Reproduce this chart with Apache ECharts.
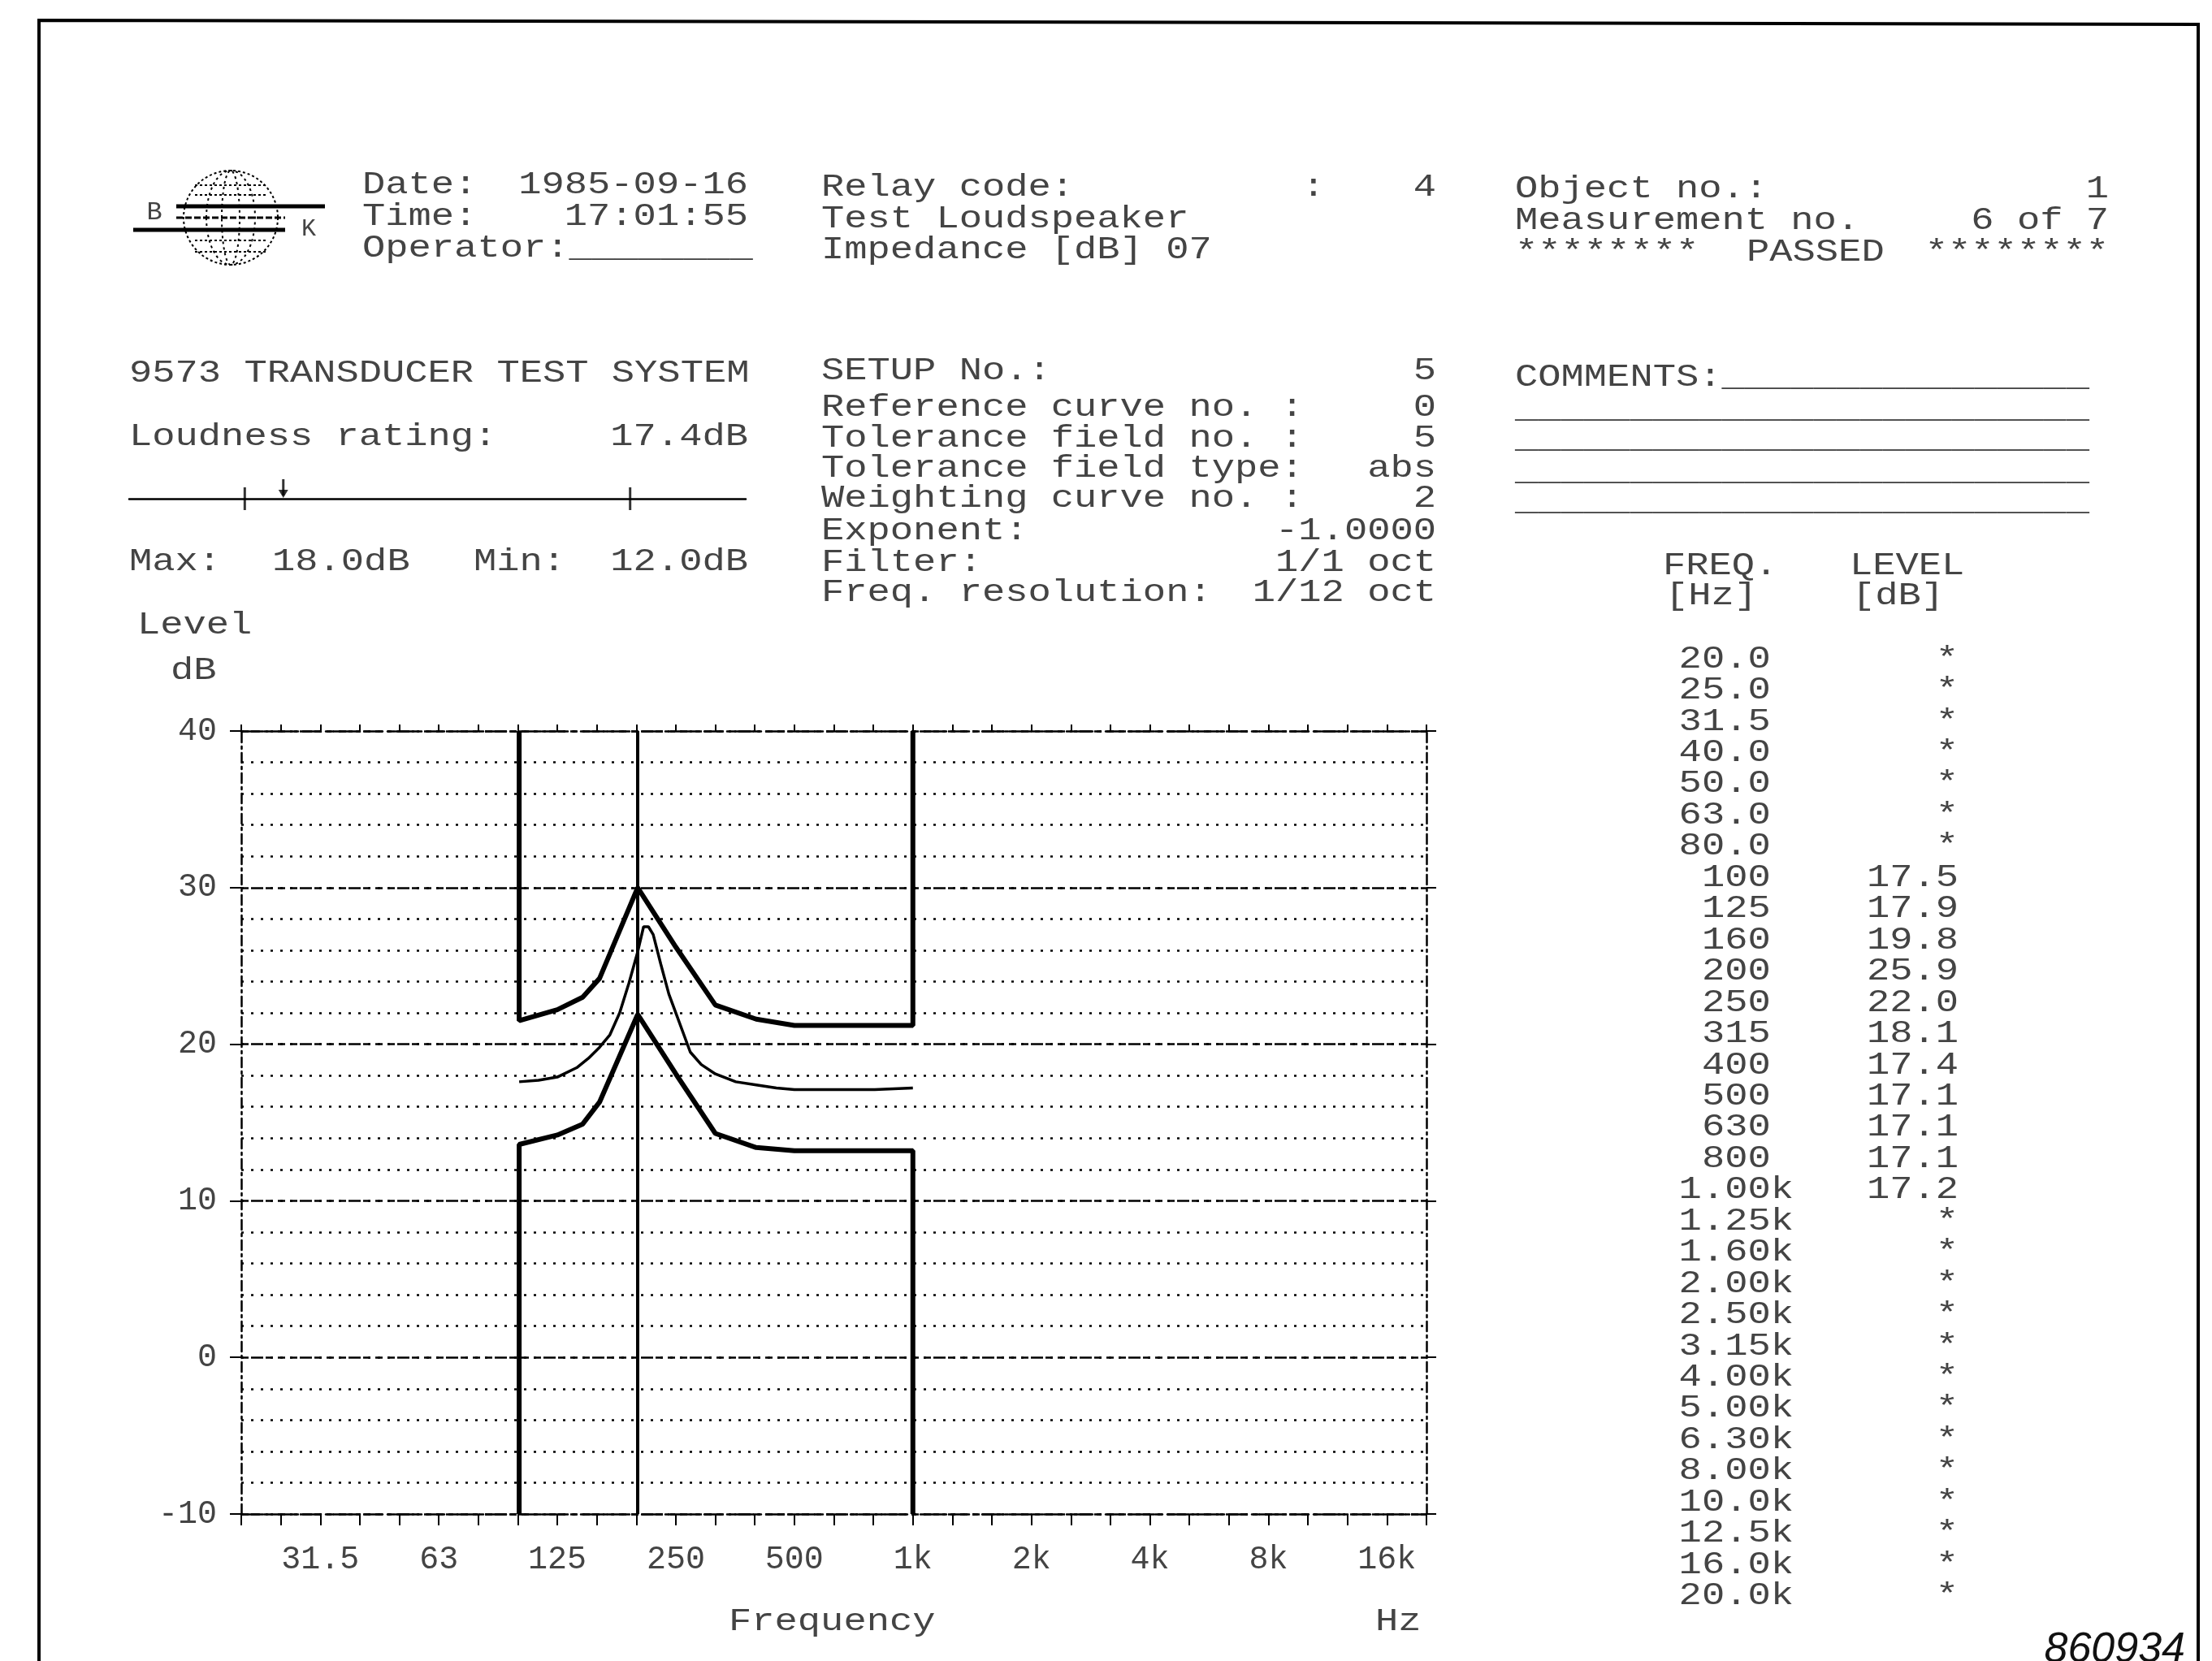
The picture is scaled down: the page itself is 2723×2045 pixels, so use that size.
<!DOCTYPE html>
<html><head><meta charset="utf-8">
<script src="https://cdn.jsdelivr.net/npm/echarts@6/dist/echarts.min.js"></script>
<style>html,body{margin:0;padding:0;background:#fff}#c{width:2723px;height:2045px}</style>
</head><body><div id="c"></div>
<script>
// ---------------- data ----------------
const bandFreqLabels = ['20.0','25.0','31.5','40.0','50.0','63.0','80.0','100','125','160','200','250','315','400','500','630','800','1.00k','1.25k','1.60k','2.00k','2.50k','3.15k','4.00k','5.00k','6.30k','8.00k','10.0k','12.5k','16.0k','20.0k'];
const bandLevels = [null,null,null,null,null,null,null,17.5,17.9,19.8,25.9,22.0,18.1,17.4,17.1,17.1,17.1,17.2,null,null,null,null,null,null,null,null,null,null,null,null,null];
const xTickLabels = ['','','31.5','','','63','','','125','','','250','','','500','','','1k','','','2k','','','4k','','','8k','','','16k',''];
const yMin = -10, yMax = 40;

const measFreq  = [100, 112, 125, 140, 150, 160, 170, 180, 190, 200, 207, 213, 219, 229, 240, 250, 272, 290, 315, 355, 400, 450, 500, 630, 800, 1000];
const measLevel = [17.6,17.7,17.9,18.5,19.1,19.8,20.6,22.0,23.9,25.9,27.5,27.5,27.0,25.1,23.2,22.0,19.5,18.7,18.1,17.6,17.4,17.2,17.1,17.1,17.1,17.2];

const tolFreq  = [100, 125, 145, 160, 200, 250, 315, 400, 500, 1000];
const tolUpper = [21.5,22.2,23.0,24.2,30.0,26.2,22.5,21.6,21.2,21.2];
const tolLower = [13.6,14.2,14.9,16.3,21.9,18.1,14.3,13.4,13.2,13.2];
const cursorFreq = 200;

const loudnessRating = 17.4, loudnessMax = 18.0, loudnessMin = 12.0;

const headDate = '1985-09-16', headTime = '17:01:55';
const setupLabels = ['SETUP No.:','Reference curve no. :','Tolerance field no. :','Tolerance field type:','Weighting curve no. :','Exponent:','Filter:','Freq. resolution:'];
const setupValues = ['5','0','5','abs','2','-1.0000','1/1 oct','1/12 oct'];

// ---------------- helpers ----------------
const band = f => 3 * Math.log2(f / 1000) + 17;   // 1/3-octave band number (20 Hz = 0)
const INK = '#444';
const FS = 38, SX = 1.24;
const FONT = FS + 'px "Liberation Mono", monospace';
function T(x, y, s, align, extra) {
  const a = align || 'left';
  return Object.assign({type:'text', x:x, y:y, scaleX:SX, silent:true,
    style:{text:s, font:FONT, fill:INK, align:a, textAlign:a, verticalAlign:'middle', textVerticalAlign:'middle'}}, extra||{});
}
function L(x1,y1,x2,y2,w,dash){
  return {type:'line', silent:true, shape:{x1,y1,x2,y2}, style:{stroke:'#000', lineWidth:w||2, lineDash:dash||null}};
}

const upperData = [[band(tolFreq[0]), yMax]].concat(tolFreq.map((f,i)=>[band(f), tolUpper[i]])).concat([[band(tolFreq[tolFreq.length-1]), yMax]]);
const lowerData = [[band(tolFreq[0]), yMin]].concat(tolFreq.map((f,i)=>[band(f), tolLower[i]])).concat([[band(tolFreq[tolFreq.length-1]), yMin]]);
const measData = measFreq.map((f,i)=>[band(f), measLevel[i]]);
const cursorData = [[band(cursorFreq), yMin],[band(cursorFreq), yMax]];

// ---------------- graphic (text, logo, frame) ----------------
const g = [];
// frame of the printout
g.push({type:'polyline', silent:true, shape:{points:[[48,2045],[48,25],[1200,27],[2706,30],[2706,2045]]}, style:{stroke:'#000', lineWidth:4, fill:'none'}});
// logo
g.push({type:'circle', silent:true, shape:{cx:284, cy:268, r:58}, style:{fill:'none', stroke:'#000', lineWidth:2, lineDash:[3,3]}});
g.push({type:'ellipse', silent:true, shape:{cx:284, cy:268, rx:30, ry:58}, style:{fill:'none', stroke:'#000', lineWidth:2, lineDash:[3,4]}});
g.push({type:'ellipse', silent:true, shape:{cx:284, cy:268, rx:11, ry:58}, style:{fill:'none', stroke:'#000', lineWidth:2, lineDash:[3,4]}});
[228, 240, 296, 310].forEach(y => g.push(L(240, y, 328, y, 2, [3,3])));
g.push(L(217, 254, 400, 254, 5));
g.push(L(217, 268, 351, 268, 3, [8,3]));
g.push(L(164, 283, 351, 283, 5));
g.push({type:'text', x:190, y:262, silent:true, style:{text:'B', font:'32px "Liberation Mono"', fill:INK, align:'center', textAlign:'center', verticalAlign:'middle', textVerticalAlign:'middle'}});
g.push({type:'text', x:380, y:282, silent:true, style:{text:'K', font:'30px "Liberation Mono"', fill:INK, align:'center', textAlign:'center', verticalAlign:'middle', textVerticalAlign:'middle'}});

// column 1 header
g.push(T(446,228,'Date:'));  g.push(T(921,228,headDate,'right'));
g.push(T(446,267,'Time:'));  g.push(T(921,267,headTime,'right'));
g.push(T(446,306,'Operator:________'));
// column 2 header
g.push(T(1011,231,'Relay code:')); g.push(T(1617,231,':','center')); g.push(T(1768,231,'4','right'));
g.push(T(1011,270,'Test Loudspeaker'));
g.push(T(1011,308,'Impedance [dB] 07'));
// column 3 header
g.push(T(1865,233,'Object no.:')); g.push(T(2596,233,'1','right'));
g.push(T(1865,272,'Measurement no.')); g.push(T(2596,272,'6 of 7','right'));
g.push(T(1865,311,'********')); g.push(T(2150,311,'PASSED')); g.push(T(2596,311,'********','right'));
// block 2, column 1
g.push(T(159,460,'9573 TRANSDUCER TEST SYSTEM'));
g.push(T(159,538,'Loudness rating:')); g.push(T(921,538,loudnessRating.toFixed(1)+'dB','right'));
g.push(T(159,692,'Max:')); g.push(T(335,692,loudnessMax.toFixed(1)+'dB'));
g.push(T(583,692,'Min:')); g.push(T(921,692,loudnessMin.toFixed(1)+'dB','right'));
// block 2, column 2
const setupY = [457,502,540,577,614,654,693,730];
setupLabels.forEach((s,i)=>{ g.push(T(1011,setupY[i],s)); g.push(T(1768,setupY[i],setupValues[i],'right')); });
// block 2, column 3
g.push(T(1865,465,'COMMENTS:________________'));
[504,541,581,618].forEach(y=>g.push(T(1865,y,'_________________________')));
g.push(T(2047,697,'FREQ.')); g.push(T(2277,697,'LEVEL'));
g.push(T(2050,734,'[Hz]'));  g.push(T(2280,734,'[dB]'));
bandFreqLabels.forEach((s,i)=>{
  const y = 811.6 + 38.45*i;
  g.push(T(2208, y, /k$/.test(s) ? s : s + ' ', 'right'));
  g.push(T(2411, y, bandLevels[i] == null ? '*' : bandLevels[i].toFixed(1), 'right'));
});
// plot captions
g.push(T(169,770,'Level'));
g.push(T(210,826,'dB'));
g.push(T(897,1997,'Frequency'));
g.push(T(1693,1997,'Hz'));
// drawing number
g.push({type:'text', x:2690, y:2058, silent:true, style:{text:'860934', font:'italic 52px "Liberation Sans", Arial, sans-serif', fill:'#111', align:'right', textAlign:'right', verticalAlign:'bottom', textVerticalAlign:'bottom'}});

// ---------------- chart ----------------
const chart = echarts.init(document.getElementById('c'), null, {renderer:'canvas'});
const axisFont = {fontFamily:'"Liberation Mono", monospace', fontSize:40, color:INK};
const dashDot = [22,6,4,6];
chart.setOption({
  animation:false,
  backgroundColor:'#fff',
  grid:[
    {left:297, top:900, width:1459, height:964, outerBoundsMode:'none', containLabel:false},
    {left:159, top:584, width:759, height:30, outerBoundsMode:'none', containLabel:false}
  ],
  xAxis:[
    {type:'value', gridIndex:0, min:0, max:30, interval:1, position:'bottom',
     axisLine:{show:true, onZero:false, lineStyle:{color:'#000', width:2.5, type:dashDot}},
     axisTick:{show:true, inside:false, length:14, lineStyle:{color:'#000', width:2}},
     axisLabel:Object.assign({show:true, margin:36, formatter:v=>xTickLabels[Math.round(v)]||''}, axisFont),
     splitLine:{show:false}},
    {type:'value', gridIndex:0, min:0, max:30, interval:1, position:'top',
     axisLine:{show:true, onZero:false, lineStyle:{color:'#000', width:2.5, type:dashDot}},
     axisTick:{show:true, inside:false, length:8, lineStyle:{color:'#000', width:2}},
     axisLabel:{show:false}, splitLine:{show:false}},
    {type:'value', gridIndex:1, min:10.2, max:19.8, inverse:true, position:'bottom',
     axisLine:{show:true, onZero:false, lineStyle:{color:'#000', width:2.5}},
     axisTick:{show:false}, axisLabel:{show:false}, splitLine:{show:false}}
  ],
  yAxis:[
    {type:'value', gridIndex:0, min:yMin, max:yMax, interval:2, position:'left',
     axisLine:{show:true, onZero:false, lineStyle:{color:'#000', width:2.5, type:[12,5,3,5]}},
     axisTick:{show:false}, axisLabel:{show:false},
     splitLine:{show:true, lineStyle:{color:'#000', width:2.5, type:[3,9]}}},
    {type:'value', gridIndex:0, min:yMin, max:yMax, interval:10, position:'left',
     axisLine:{show:false, onZero:false},
     axisTick:{show:true, inside:false, length:14, lineStyle:{color:'#000', width:2}},
     axisLabel:Object.assign({show:true, margin:30}, axisFont),
     splitLine:{show:true, lineStyle:{color:'#000', width:2.5, type:[9,6]}}},
    {type:'value', gridIndex:0, min:yMin, max:yMax, interval:10, position:'right',
     axisLine:{show:true, onZero:false, lineStyle:{color:'#000', width:2.5, type:[12,5,3,5]}},
     axisTick:{show:true, inside:false, length:12, lineStyle:{color:'#000', width:2}},
     axisLabel:{show:false}, splitLine:{show:false}},
    {type:'value', gridIndex:1, min:0, max:1, show:false}
  ],
  series:[
    {name:'upper tolerance', type:'line', xAxisIndex:0, yAxisIndex:0, data:upperData, symbol:'none', lineStyle:{color:'#000', width:6}, z:3},
    {name:'lower tolerance', type:'line', xAxisIndex:0, yAxisIndex:0, data:lowerData, symbol:'none', lineStyle:{color:'#000', width:6}, z:3},
    {name:'cursor', type:'line', xAxisIndex:0, yAxisIndex:0, data:cursorData, symbol:'none', lineStyle:{color:'#000', width:4}, z:3},
    {name:'measured', type:'line', xAxisIndex:0, yAxisIndex:0, data:measData, symbol:'none', smooth:false, lineStyle:{color:'#000', width:3.5}, z:4},
    {name:'limits', type:'scatter', xAxisIndex:2, yAxisIndex:3, data:[[loudnessMax,0],[loudnessMin,0]], symbol:'rect', symbolSize:[3,28], itemStyle:{color:'#000'}, silent:true},
    {name:'rating stem', type:'scatter', xAxisIndex:2, yAxisIndex:3, data:[[loudnessRating,0]], symbol:'rect', symbolSize:[3,20], symbolOffset:[0,-14], itemStyle:{color:'#000'}, silent:true},
    {name:'rating head', type:'scatter', xAxisIndex:2, yAxisIndex:3, data:[[loudnessRating,0]], symbol:'triangle', symbolRotate:180, symbolSize:[12,10], symbolOffset:[0,-6], itemStyle:{color:'#000'}, silent:true}
  ],
  graphic:g
});
</script></body></html>
